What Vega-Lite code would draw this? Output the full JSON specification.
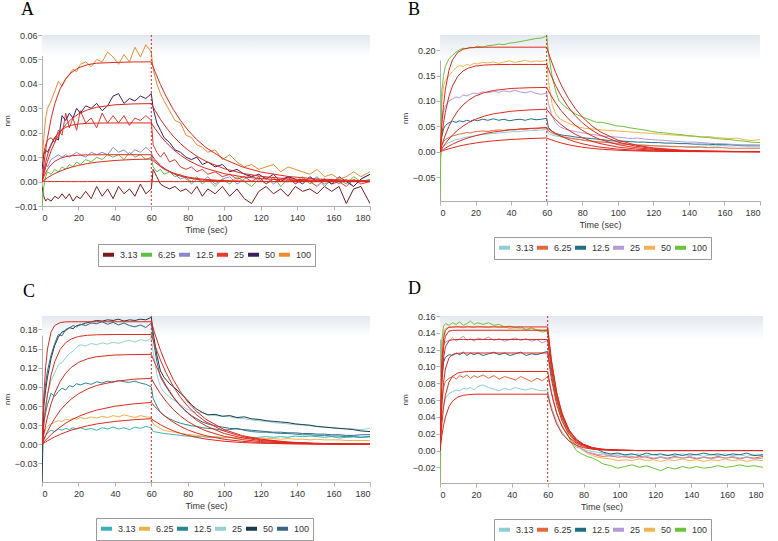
{
"$schema":"https://vega.github.io/schema/vega-lite/v6.json",
"padding":{"left":3,"top":0,"right":2,"bottom":1},
"background":"white",
"datasets":{
"An":[
{"t":0,"a":-0.002,"b":-0.010,"c":0.009,"d":0.010,"e":0.005,"f":0.008},
{"t":1,"a":-0.006,"b":-0.002,"c":0.004,"d":0.012,"e":0.011,"f":0.018},
{"t":2,"a":-0.008,"b":0.002,"c":0.007,"d":0.015,"e":0.013,"f":0.026},
{"t":3,"a":-0.007,"b":0.004,"c":0.006,"d":0.017,"e":0.012,"f":0.030},
{"t":5,"a":-0.008,"b":0.003,"c":0.009,"d":0.018,"e":0.015,"f":0.033},
{"t":7,"a":-0.006,"b":0.005,"c":0.010,"d":0.016,"e":0.018,"f":0.037},
{"t":9,"a":-0.007,"b":0.004,"c":0.011,"d":0.021,"e":0.017,"f":0.041},
{"t":11,"a":-0.005,"b":0.006,"c":0.010,"d":0.019,"e":0.027,"f":0.039},
{"t":13,"a":-0.007,"b":0.005,"c":0.011,"d":0.028,"e":0.025,"f":0.042},
{"t":15,"a":-0.005,"b":0.007,"c":0.010,"d":0.022,"e":0.028,"f":0.044},
{"t":17,"a":-0.008,"b":0.006,"c":0.011,"d":0.026,"e":0.026,"f":0.046},
{"t":19,"a":-0.006,"b":0.008,"c":0.012,"d":0.021,"e":0.030,"f":0.045},
{"t":21,"a":-0.007,"b":0.007,"c":0.011,"d":0.029,"e":0.028,"f":0.048},
{"t":24,"a":-0.004,"b":0.009,"c":0.010,"d":0.024,"e":0.031,"f":0.049},
{"t":27,"a":-0.007,"b":0.008,"c":0.012,"d":0.026,"e":0.030,"f":0.047},
{"t":30,"a":-0.002,"b":0.010,"c":0.011,"d":0.022,"e":0.032,"f":0.050},
{"t":33,"a":-0.006,"b":0.009,"c":0.012,"d":0.028,"e":0.029,"f":0.049},
{"t":36,"a":-0.003,"b":0.011,"c":0.011,"d":0.024,"e":0.031,"f":0.053},
{"t":39,"a":-0.007,"b":0.010,"c":0.014,"d":0.027,"e":0.035,"f":0.051},
{"t":42,"a":-0.002,"b":0.011,"c":0.012,"d":0.024,"e":0.036,"f":0.048},
{"t":45,"a":-0.005,"b":0.009,"c":0.013,"d":0.027,"e":0.032,"f":0.052},
{"t":48,"a":-0.003,"b":0.012,"c":0.011,"d":0.023,"e":0.034,"f":0.049},
{"t":51,"a":-0.006,"b":0.010,"c":0.013,"d":0.026,"e":0.033,"f":0.055},
{"t":54,"a":-0.001,"b":0.011,"c":0.012,"d":0.025,"e":0.035,"f":0.051},
{"t":57,"a":-0.005,"b":0.009,"c":0.014,"d":0.027,"e":0.034,"f":0.056},
{"t":60,"a":-0.003,"b":0.010,"c":0.012,"d":0.025,"e":0.036,"f":0.053},
{"t":61,"a":0.005,"b":0.006,"c":0.009,"d":0.015,"e":0.030,"f":0.046},
{"t":63,"a":0.002,"b":0.004,"c":0.008,"d":0.012,"e":0.024,"f":0.040},
{"t":65,"a":-0.001,"b":0.005,"c":0.006,"d":0.010,"e":0.021,"f":0.036},
{"t":67,"a":-0.002,"b":0.003,"c":0.005,"d":0.012,"e":0.018,"f":0.033},
{"t":70,"a":-0.003,"b":0.004,"c":0.004,"d":0.008,"e":0.016,"f":0.029},
{"t":73,"a":-0.002,"b":0.002,"c":0.003,"d":0.009,"e":0.013,"f":0.025},
{"t":76,"a":-0.004,"b":0.003,"c":0.001,"d":0.006,"e":0.012,"f":0.024},
{"t":79,"a":-0.003,"b":0.001,"c":0.002,"d":0.005,"e":0.010,"f":0.019},
{"t":82,"a":-0.005,"b":0.000,"c":-0.001,"d":0.006,"e":0.009,"f":0.018},
{"t":85,"a":-0.002,"b":0.002,"c":0.001,"d":0.004,"e":0.010,"f":0.015},
{"t":88,"a":-0.006,"b":-0.001,"c":0.000,"d":0.005,"e":0.007,"f":0.014},
{"t":91,"a":-0.003,"b":0.001,"c":0.002,"d":0.003,"e":0.008,"f":0.012},
{"t":95,"a":-0.005,"b":-0.002,"c":-0.001,"d":0.004,"e":0.006,"f":0.013},
{"t":99,"a":-0.002,"b":0.001,"c":0.001,"d":0.002,"e":0.007,"f":0.009},
{"t":103,"a":-0.006,"b":-0.001,"c":0.002,"d":0.003,"e":0.004,"f":0.011},
{"t":107,"a":-0.003,"b":0.002,"c":-0.001,"d":0.001,"e":0.005,"f":0.008},
{"t":111,"a":-0.007,"b":0.000,"c":0.001,"d":0.002,"e":0.003,"f":0.006},
{"t":115,"a":-0.009,"b":-0.002,"c":0.003,"d":0.000,"e":0.002,"f":0.007},
{"t":119,"a":-0.004,"b":0.001,"c":0.000,"d":0.002,"e":0.003,"f":0.005},
{"t":123,"a":-0.002,"b":-0.001,"c":0.002,"d":-0.001,"e":0.001,"f":0.006},
{"t":127,"a":-0.005,"b":0.002,"c":-0.001,"d":0.001,"e":0.003,"f":0.007},
{"t":131,"a":-0.003,"b":-0.002,"c":0.001,"d":0.000,"e":0.000,"f":0.004},
{"t":135,"a":-0.006,"b":0.001,"c":0.002,"d":0.002,"e":0.002,"f":0.006},
{"t":139,"a":-0.002,"b":0.000,"c":-0.001,"d":-0.001,"e":0.001,"f":0.005},
{"t":143,"a":-0.004,"b":0.002,"c":0.001,"d":0.001,"e":-0.001,"f":0.004},
{"t":147,"a":-0.003,"b":-0.001,"c":0.000,"d":0.000,"e":0.002,"f":0.003},
{"t":151,"a":-0.005,"b":0.001,"c":0.002,"d":-0.002,"e":0.000,"f":0.005},
{"t":155,"a":-0.002,"b":-0.001,"c":-0.002,"d":0.001,"e":0.001,"f":0.002},
{"t":159,"a":-0.004,"b":0.000,"c":0.001,"d":-0.001,"e":-0.001,"f":0.003},
{"t":163,"a":-0.002,"b":0.001,"c":-0.001,"d":0.000,"e":0.002,"f":0.001},
{"t":167,"a":-0.009,"b":-0.001,"c":0.001,"d":-0.002,"e":0.000,"f":0.002},
{"t":171,"a":-0.003,"b":0.002,"c":-0.002,"d":0.001,"e":-0.002,"f":0.004},
{"t":175,"a":-0.002,"b":0.000,"c":0.001,"d":-0.001,"e":0.001,"f":0.002},
{"t":180,"a":-0.009,"b":0.001,"c":0.003,"d":0.000,"e":0.003,"f":0.004}
],
"Af":[
{"t":0,"a":0,"b":0,"c":0,"d":0,"e":0,"f":0},
{"t":1,"a":0,"b":0.00055,"c":0.00199,"d":0.00434,"e":0.00304,"f":0.00681},
{"t":2,"a":0,"b":0.00107,"c":0.00363,"d":0.00792,"e":0.00579,"f":0.01269},
{"t":3,"a":0,"b":0.00157,"c":0.00496,"d":0.01083,"e":0.00829,"f":0.01774},
{"t":5,"a":0,"b":0.00246,"c":0.00695,"d":0.01517,"e":0.01258,"f":0.02587},
{"t":7,"a":0,"b":0.00326,"c":0.00828,"d":0.01807,"e":0.0161,"f":0.03185},
{"t":10,"a":0,"b":0.00428,"c":0.00951,"d":0.02076,"e":0.02022,"f":0.03807},
{"t":13,"a":0,"b":0.00515,"c":0.01019,"d":0.02222,"e":0.02326,"f":0.04204},
{"t":16,"a":0,"b":0.00586,"c":0.01055,"d":0.02302,"e":0.02554,"f":0.04454},
{"t":20,"a":0,"b":0.00664,"c":0.0108,"d":0.02356,"e":0.02768,"f":0.04655},
{"t":25,"a":0,"b":0.00738,"c":0.01093,"d":0.02384,"e":0.02938,"f":0.04785},
{"t":30,"a":0,"b":0.00793,"c":0.01097,"d":0.02394,"e":0.0304,"f":0.04846},
{"t":40,"a":0,"b":0.00864,"c":0.011,"d":0.024,"e":0.03142,"f":0.04878},
{"t":50,"a":0,"b":0.00903,"c":0.011,"d":0.024,"e":0.03179,"f":0.04897},
{"t":60,"a":0,"b":0.00924,"c":0.011,"d":0.024,"e":0.03192,"f":0.049},
{"t":62,"a":0,"b":0.00787,"c":0.00901,"d":0.02172,"e":0.02916,"f":0.04505},
{"t":65,"a":0,"b":0.00619,"c":0.00667,"d":0.01869,"e":0.02549,"f":0.03973},
{"t":68,"a":0,"b":0.00487,"c":0.00494,"d":0.01608,"e":0.02227,"f":0.03502},
{"t":72,"a":0,"b":0.00354,"c":0.00331,"d":0.01317,"e":0.0186,"f":0.0296},
{"t":76,"a":0,"b":0.00257,"c":0.00222,"d":0.01078,"e":0.01553,"f":0.02503},
{"t":80,"a":0,"b":0.00187,"c":0.00149,"d":0.00883,"e":0.01298,"f":0.02115},
{"t":85,"a":0,"b":0.00125,"c":0.0009,"d":0.00688,"e":0.01036,"f":0.01715},
{"t":90,"a":0,"b":0.00084,"c":0.00055,"d":0.00536,"e":0.00827,"f":0.0139},
{"t":100,"a":0,"b":0.00038,"c":0.0002,"d":0.00325,"e":0.00527,"f":0.00913},
{"t":110,"a":0,"b":0.00017,"c":0.00007,"d":0.00197,"e":0.00336,"f":0.00599},
{"t":120,"a":0,"b":0.00008,"c":0,"d":0.0012,"e":0.00214,"f":0.00393},
{"t":135,"a":0,"b":0,"c":0,"d":0.00056,"e":0.00109,"f":0.0021},
{"t":150,"a":0,"b":0,"c":0,"d":0.00027,"e":0.00056,"f":0.00112},
{"t":165,"a":0,"b":0,"c":0,"d":0.00013,"e":0.00028,"f":0.0006},
{"t":180,"a":0,"b":0,"c":0,"d":0.00006,"e":0.00014,"f":0.00032}
],
"Bn":[
{"t":0,"a":-0.020,"b":0.000,"c":0.000,"d":0.000,"e":-0.050,"f":-0.097},
{"t":1,"a":0.006,"b":0.012,"c":0.030,"d":0.060,"e":0.100,"f":0.120},
{"t":2,"a":0.010,"b":0.020,"c":0.045,"d":0.080,"e":0.130,"f":0.150},
{"t":3,"a":0.014,"b":0.024,"c":0.052,"d":0.090,"e":0.140,"f":0.168},
{"t":5,"a":0.018,"b":0.028,"c":0.057,"d":0.100,"e":0.150,"f":0.183},
{"t":7,"a":0.021,"b":0.031,"c":0.060,"d":0.104,"e":0.158,"f":0.190},
{"t":9,"a":0.024,"b":0.033,"c":0.058,"d":0.108,"e":0.166,"f":0.196},
{"t":11,"a":0.025,"b":0.035,"c":0.061,"d":0.106,"e":0.170,"f":0.201},
{"t":13,"a":0.027,"b":0.036,"c":0.059,"d":0.112,"e":0.168,"f":0.204},
{"t":15,"a":0.029,"b":0.038,"c":0.062,"d":0.110,"e":0.172,"f":0.203},
{"t":17,"a":0.030,"b":0.037,"c":0.060,"d":0.113,"e":0.170,"f":0.206},
{"t":19,"a":0.031,"b":0.039,"c":0.063,"d":0.116,"e":0.174,"f":0.205},
{"t":21,"a":0.033,"b":0.040,"c":0.061,"d":0.114,"e":0.173,"f":0.208},
{"t":24,"a":0.034,"b":0.041,"c":0.064,"d":0.118,"e":0.176,"f":0.206},
{"t":27,"a":0.035,"b":0.040,"c":0.062,"d":0.116,"e":0.175,"f":0.209},
{"t":30,"a":0.036,"b":0.042,"c":0.065,"d":0.119,"e":0.177,"f":0.210},
{"t":33,"a":0.037,"b":0.043,"c":0.062,"d":0.117,"e":0.174,"f":0.212},
{"t":36,"a":0.038,"b":0.042,"c":0.064,"d":0.120,"e":0.177,"f":0.211},
{"t":39,"a":0.039,"b":0.044,"c":0.061,"d":0.118,"e":0.179,"f":0.214},
{"t":42,"a":0.040,"b":0.043,"c":0.063,"d":0.121,"e":0.176,"f":0.215},
{"t":45,"a":0.040,"b":0.045,"c":0.064,"d":0.118,"e":0.178,"f":0.217},
{"t":48,"a":0.041,"b":0.044,"c":0.062,"d":0.116,"e":0.180,"f":0.219},
{"t":51,"a":0.042,"b":0.046,"c":0.065,"d":0.119,"e":0.177,"f":0.221},
{"t":54,"a":0.042,"b":0.045,"c":0.063,"d":0.115,"e":0.179,"f":0.223},
{"t":57,"a":0.043,"b":0.047,"c":0.064,"d":0.113,"e":0.178,"f":0.224},
{"t":60,"a":0.044,"b":0.047,"c":0.066,"d":0.116,"e":0.180,"f":0.228},
{"t":61,"a":0.036,"b":0.041,"c":0.048,"d":0.095,"e":0.140,"f":0.195},
{"t":63,"a":0.033,"b":0.037,"c":0.040,"d":0.070,"e":0.095,"f":0.150},
{"t":65,"a":0.031,"b":0.034,"c":0.036,"d":0.058,"e":0.075,"f":0.120},
{"t":67,"a":0.030,"b":0.032,"c":0.034,"d":0.050,"e":0.066,"f":0.100},
{"t":70,"a":0.028,"b":0.029,"c":0.032,"d":0.045,"e":0.060,"f":0.090},
{"t":73,"a":0.026,"b":0.027,"c":0.031,"d":0.042,"e":0.055,"f":0.082},
{"t":76,"a":0.025,"b":0.025,"c":0.029,"d":0.040,"e":0.051,"f":0.075},
{"t":79,"a":0.024,"b":0.024,"c":0.028,"d":0.038,"e":0.048,"f":0.070},
{"t":82,"a":0.022,"b":0.022,"c":0.027,"d":0.036,"e":0.046,"f":0.066},
{"t":85,"a":0.021,"b":0.021,"c":0.026,"d":0.034,"e":0.045,"f":0.062},
{"t":88,"a":0.020,"b":0.020,"c":0.025,"d":0.033,"e":0.044,"f":0.058},
{"t":91,"a":0.019,"b":0.019,"c":0.024,"d":0.031,"e":0.043,"f":0.058},
{"t":95,"a":0.018,"b":0.018,"c":0.022,"d":0.030,"e":0.042,"f":0.055},
{"t":99,"a":0.017,"b":0.016,"c":0.021,"d":0.029,"e":0.041,"f":0.051},
{"t":103,"a":0.016,"b":0.015,"c":0.021,"d":0.028,"e":0.040,"f":0.050},
{"t":107,"a":0.015,"b":0.014,"c":0.020,"d":0.026,"e":0.039,"f":0.047},
{"t":111,"a":0.014,"b":0.013,"c":0.019,"d":0.027,"e":0.038,"f":0.045},
{"t":115,"a":0.013,"b":0.013,"c":0.019,"d":0.025,"e":0.037,"f":0.043},
{"t":119,"a":0.012,"b":0.012,"c":0.018,"d":0.024,"e":0.036,"f":0.040},
{"t":123,"a":0.012,"b":0.011,"c":0.018,"d":0.023,"e":0.035,"f":0.038},
{"t":127,"a":0.011,"b":0.011,"c":0.017,"d":0.022,"e":0.034,"f":0.037},
{"t":131,"a":0.011,"b":0.010,"c":0.017,"d":0.021,"e":0.033,"f":0.035},
{"t":135,"a":0.010,"b":0.010,"c":0.016,"d":0.020,"e":0.032,"f":0.034},
{"t":139,"a":0.011,"b":0.009,"c":0.016,"d":0.019,"e":0.031,"f":0.032},
{"t":143,"a":0.010,"b":0.009,"c":0.015,"d":0.019,"e":0.030,"f":0.031},
{"t":147,"a":0.011,"b":0.009,"c":0.015,"d":0.018,"e":0.029,"f":0.029},
{"t":151,"a":0.012,"b":0.008,"c":0.015,"d":0.017,"e":0.030,"f":0.028},
{"t":155,"a":0.011,"b":0.008,"c":0.014,"d":0.016,"e":0.028,"f":0.026},
{"t":159,"a":0.012,"b":0.008,"c":0.014,"d":0.016,"e":0.027,"f":0.025},
{"t":163,"a":0.011,"b":0.007,"c":0.014,"d":0.015,"e":0.026,"f":0.024},
{"t":167,"a":0.012,"b":0.007,"c":0.013,"d":0.014,"e":0.027,"f":0.022},
{"t":171,"a":0.011,"b":0.007,"c":0.013,"d":0.013,"e":0.024,"f":0.021},
{"t":175,"a":0.010,"b":0.007,"c":0.013,"d":0.013,"e":0.022,"f":0.019},
{"t":180,"a":0.010,"b":0.007,"c":0.013,"d":0.012,"e":0.024,"f":0.018}
],
"Bf":[
{"t":0,"a":0,"b":0,"c":0,"d":0,"e":0,"f":0},
{"t":1,"a":0.0013,"b":0.0025,"c":0.0058,"d":0.0121,"e":0.0311,"f":0.0534},
{"t":2,"a":0.0025,"b":0.0048,"c":0.0111,"d":0.0230,"e":0.0568,"f":0.0929},
{"t":3,"a":0.0037,"b":0.0070,"c":0.0161,"d":0.0329,"e":0.0776,"f":0.1222},
{"t":5,"a":0.0058,"b":0.0111,"c":0.0251,"d":0.0499,"e":0.1087,"f":0.1601},
{"t":7,"a":0.0078,"b":0.0148,"c":0.0329,"d":0.0639,"e":0.1295,"f":0.1809},
{"t":10,"a":0.0105,"b":0.0197,"c":0.0428,"d":0.0803,"e":0.1488,"f":0.1957},
{"t":13,"a":0.0128,"b":0.0239,"c":0.0507,"d":0.0923,"e":0.1593,"f":0.2019},
{"t":16,"a":0.0149,"b":0.0276,"c":0.0573,"d":0.1013,"e":0.1649,"f":0.2044},
{"t":20,"a":0.0172,"b":0.0316,"c":0.0640,"d":0.1099,"e":0.1689,"f":0.2055},
{"t":25,"a":0.0196,"b":0.0357,"c":0.0702,"d":0.1166,"e":0.1708,"f":0.206},
{"t":30,"a":0.0215,"b":0.0389,"c":0.0746,"d":0.1207,"e":0.1716,"f":0.206},
{"t":40,"a":0.0242,"b":0.0433,"c":0.0798,"d":0.1247,"e":0.172,"f":0.206},
{"t":50,"a":0.0260,"b":0.0459,"c":0.0824,"d":0.1261,"e":0.172,"f":0.206},
{"t":60,"a":0.0271,"b":0.0475,"c":0.0837,"d":0.1267,"e":0.172,"f":0.206},
{"t":62,"a":0.0243,"b":0.0426,"c":0.0750,"d":0.1135,"e":0.1541,"f":0.1846},
{"t":65,"a":0.0206,"b":0.0361,"c":0.0636,"d":0.0963,"e":0.1307,"f":0.1565},
{"t":68,"a":0.0175,"b":0.0306,"c":0.0539,"d":0.0816,"e":0.1108,"f":0.1327},
{"t":72,"a":0.0140,"b":0.0246,"c":0.0433,"d":0.0655,"e":0.0889,"f":0.1065},
{"t":76,"a":0.0112,"b":0.0197,"c":0.0347,"d":0.0526,"e":0.0714,"f":0.0855},
{"t":80,"a":0.0090,"b":0.0158,"c":0.0279,"d":0.0422,"e":0.0573,"f":0.0686},
{"t":85,"a":0.0069,"b":0.0120,"c":0.0212,"d":0.0321,"e":0.0435,"f":0.0521},
{"t":90,"a":0.0052,"b":0.0091,"c":0.0161,"d":0.0243,"e":0.0330,"f":0.0396},
{"t":100,"a":0.0030,"b":0.0053,"c":0.0093,"d":0.0141,"e":0.0191,"f":0.0229},
{"t":110,"a":0.0017,"b":0.0030,"c":0.0054,"d":0.0081,"e":0.0110,"f":0.0132},
{"t":120,"a":0.0010,"b":0.0018,"c":0.0031,"d":0.0047,"e":0.0064,"f":0.0076},
{"t":135,"a":0.0004,"b":0.0008,"c":0.0014,"d":0.0021,"e":0.0028,"f":0.0033},
{"t":150,"a":0.0002,"b":0.0003,"c":0.0006,"d":0.0009,"e":0.0012,"f":0.0015},
{"t":165,"a":0.0001,"b":0.0001,"c":0.0003,"d":0.0004,"e":0.0005,"f":0.0006},
{"t":180,"a":0,"b":0.0001,"c":0.0001,"d":0.0002,"e":0.0002,"f":0.0003}
],
"Cn":[
{"t":0,"a":0.000,"b":0.000,"c":-0.010,"d":0.000,"e":-0.059,"f":0.000},
{"t":1,"a":0.008,"b":0.015,"c":0.035,"d":0.040,"e":0.060,"f":0.070},
{"t":2,"a":0.014,"b":0.025,"c":0.050,"d":0.060,"e":0.085,"f":0.095},
{"t":3,"a":0.018,"b":0.028,"c":0.062,"d":0.078,"e":0.105,"f":0.115},
{"t":5,"a":0.022,"b":0.032,"c":0.080,"d":0.100,"e":0.135,"f":0.140},
{"t":7,"a":0.020,"b":0.035,"c":0.075,"d":0.112,"e":0.155,"f":0.158},
{"t":9,"a":0.024,"b":0.037,"c":0.083,"d":0.125,"e":0.168,"f":0.172},
{"t":11,"a":0.022,"b":0.036,"c":0.088,"d":0.128,"e":0.176,"f":0.170},
{"t":13,"a":0.025,"b":0.039,"c":0.085,"d":0.136,"e":0.178,"f":0.180},
{"t":15,"a":0.023,"b":0.038,"c":0.092,"d":0.142,"e":0.183,"f":0.182},
{"t":17,"a":0.026,"b":0.041,"c":0.090,"d":0.146,"e":0.181,"f":0.186},
{"t":19,"a":0.024,"b":0.039,"c":0.095,"d":0.152,"e":0.186,"f":0.184},
{"t":21,"a":0.026,"b":0.042,"c":0.093,"d":0.156,"e":0.187,"f":0.188},
{"t":24,"a":0.023,"b":0.040,"c":0.096,"d":0.154,"e":0.190,"f":0.186},
{"t":27,"a":0.025,"b":0.043,"c":0.094,"d":0.158,"e":0.192,"f":0.190},
{"t":30,"a":0.022,"b":0.041,"c":0.098,"d":0.156,"e":0.194,"f":0.189},
{"t":33,"a":0.026,"b":0.044,"c":0.096,"d":0.159,"e":0.193,"f":0.192},
{"t":36,"a":0.024,"b":0.042,"c":0.099,"d":0.157,"e":0.195,"f":0.188},
{"t":39,"a":0.027,"b":0.045,"c":0.097,"d":0.160,"e":0.194,"f":0.191},
{"t":42,"a":0.024,"b":0.043,"c":0.100,"d":0.158,"e":0.196,"f":0.187},
{"t":45,"a":0.026,"b":0.046,"c":0.098,"d":0.161,"e":0.193,"f":0.190},
{"t":48,"a":0.023,"b":0.044,"c":0.097,"d":0.163,"e":0.195,"f":0.186},
{"t":51,"a":0.027,"b":0.042,"c":0.099,"d":0.160,"e":0.194,"f":0.184},
{"t":54,"a":0.025,"b":0.045,"c":0.096,"d":0.164,"e":0.196,"f":0.187},
{"t":57,"a":0.028,"b":0.043,"c":0.094,"d":0.162,"e":0.195,"f":0.183},
{"t":60,"a":0.026,"b":0.042,"c":0.090,"d":0.166,"e":0.199,"f":0.190},
{"t":61,"a":0.020,"b":0.032,"c":0.072,"d":0.145,"e":0.175,"f":0.165},
{"t":63,"a":0.019,"b":0.028,"c":0.060,"d":0.110,"e":0.140,"f":0.130},
{"t":65,"a":0.018,"b":0.025,"c":0.050,"d":0.090,"e":0.115,"f":0.105},
{"t":67,"a":0.017,"b":0.022,"c":0.045,"d":0.082,"e":0.105,"f":0.095},
{"t":70,"a":0.016,"b":0.020,"c":0.040,"d":0.074,"e":0.095,"f":0.082},
{"t":73,"a":0.015,"b":0.019,"c":0.036,"d":0.068,"e":0.088,"f":0.070},
{"t":76,"a":0.014,"b":0.017,"c":0.033,"d":0.062,"e":0.080,"f":0.060},
{"t":79,"a":0.013,"b":0.016,"c":0.031,"d":0.056,"e":0.072,"f":0.052},
{"t":82,"a":0.013,"b":0.015,"c":0.029,"d":0.052,"e":0.062,"f":0.045},
{"t":85,"a":0.012,"b":0.014,"c":0.028,"d":0.050,"e":0.055,"f":0.040},
{"t":88,"a":0.012,"b":0.013,"c":0.026,"d":0.049,"e":0.050,"f":0.035},
{"t":91,"a":0.011,"b":0.012,"c":0.025,"d":0.047,"e":0.046,"f":0.032},
{"t":95,"a":0.011,"b":0.012,"c":0.024,"d":0.045,"e":0.047,"f":0.029},
{"t":99,"a":0.010,"b":0.011,"c":0.022,"d":0.044,"e":0.044,"f":0.027},
{"t":103,"a":0.011,"b":0.011,"c":0.023,"d":0.043,"e":0.045,"f":0.025},
{"t":107,"a":0.010,"b":0.010,"c":0.025,"d":0.041,"e":0.042,"f":0.024},
{"t":111,"a":0.011,"b":0.010,"c":0.022,"d":0.040,"e":0.043,"f":0.023},
{"t":115,"a":0.010,"b":0.009,"c":0.020,"d":0.038,"e":0.040,"f":0.022},
{"t":119,"a":0.011,"b":0.010,"c":0.019,"d":0.037,"e":0.039,"f":0.021},
{"t":123,"a":0.012,"b":0.009,"c":0.019,"d":0.036,"e":0.037,"f":0.020},
{"t":127,"a":0.011,"b":0.009,"c":0.018,"d":0.034,"e":0.036,"f":0.019},
{"t":131,"a":0.012,"b":0.008,"c":0.017,"d":0.033,"e":0.035,"f":0.019},
{"t":135,"a":0.011,"b":0.009,"c":0.017,"d":0.032,"e":0.034,"f":0.018},
{"t":139,"a":0.013,"b":0.008,"c":0.016,"d":0.031,"e":0.032,"f":0.018},
{"t":143,"a":0.012,"b":0.008,"c":0.015,"d":0.030,"e":0.031,"f":0.017},
{"t":147,"a":0.013,"b":0.007,"c":0.015,"d":0.029,"e":0.030,"f":0.017},
{"t":151,"a":0.012,"b":0.008,"c":0.014,"d":0.028,"e":0.028,"f":0.016},
{"t":155,"a":0.011,"b":0.007,"c":0.014,"d":0.027,"e":0.027,"f":0.016},
{"t":159,"a":0.012,"b":0.007,"c":0.013,"d":0.026,"e":0.026,"f":0.015},
{"t":163,"a":0.010,"b":0.007,"c":0.013,"d":0.025,"e":0.025,"f":0.015},
{"t":167,"a":0.011,"b":0.006,"c":0.012,"d":0.025,"e":0.024,"f":0.014},
{"t":171,"a":0.012,"b":0.006,"c":0.012,"d":0.024,"e":0.023,"f":0.014},
{"t":175,"a":0.011,"b":0.006,"c":0.011,"d":0.023,"e":0.021,"f":0.015},
{"t":180,"a":0.012,"b":0.006,"c":0.012,"d":0.025,"e":0.020,"f":0.015}
],
"Cf":[
{"t":0,"a":0,"b":0,"c":0,"d":0,"e":0,"f":0},
{"t":1,"a":0.0019,"b":0.0034,"c":0.0071,"d":0.0159,"e":0.0311,"f":0.0755},
{"t":2,"a":0.0037,"b":0.0066,"c":0.0138,"d":0.0300,"e":0.0568,"f":0.1213},
{"t":3,"a":0.0054,"b":0.0096,"c":0.0198,"d":0.0426,"e":0.0776,"f":0.1492},
{"t":5,"a":0.0086,"b":0.0152,"c":0.0310,"d":0.0636,"e":0.1087,"f":0.1763},
{"t":7,"a":0.0116,"b":0.0204,"c":0.0406,"d":0.0801,"e":0.1295,"f":0.1862},
{"t":10,"a":0.0156,"b":0.0271,"c":0.0533,"d":0.0986,"e":0.1488,"f":0.1907},
{"t":13,"a":0.0190,"b":0.0330,"c":0.0627,"d":0.1114,"e":0.1593,"f":0.1918},
{"t":16,"a":0.0221,"b":0.0380,"c":0.0708,"d":0.1203,"e":0.1649,"f":0.192},
{"t":20,"a":0.0255,"b":0.0436,"c":0.0791,"d":0.1282,"e":0.1689,"f":0.192},
{"t":25,"a":0.0290,"b":0.0492,"c":0.0867,"d":0.1340,"e":0.1708,"f":0.192},
{"t":30,"a":0.0319,"b":0.0536,"c":0.0922,"d":0.1372,"e":0.1716,"f":0.192},
{"t":40,"a":0.0359,"b":0.0597,"c":0.0986,"d":0.1399,"e":0.172,"f":0.192},
{"t":50,"a":0.0385,"b":0.0633,"c":0.1019,"d":0.1406,"e":0.172,"f":0.192},
{"t":60,"a":0.0401,"b":0.0656,"c":0.1034,"d":0.1409,"e":0.172,"f":0.192},
{"t":62,"a":0.0361,"b":0.0590,"c":0.0930,"d":0.1268,"e":0.1546,"f":0.1726},
{"t":65,"a":0.0308,"b":0.0503,"c":0.0793,"d":0.1081,"e":0.1319,"f":0.1473},
{"t":68,"a":0.0262,"b":0.0429,"c":0.0676,"d":0.0922,"e":0.1125,"f":0.1256},
{"t":72,"a":0.0212,"b":0.0347,"c":0.0547,"d":0.0746,"e":0.0910,"f":0.1016},
{"t":76,"a":0.0172,"b":0.0281,"c":0.0443,"d":0.0603,"e":0.0736,"f":0.0822},
{"t":80,"a":0.0139,"b":0.0227,"c":0.0358,"d":0.0488,"e":0.0595,"f":0.0664},
{"t":85,"a":0.0107,"b":0.0175,"c":0.0275,"d":0.0375,"e":0.0458,"f":0.0511},
{"t":90,"a":0.0082,"b":0.0134,"c":0.0211,"d":0.0288,"e":0.0351,"f":0.0392},
{"t":100,"a":0.0048,"b":0.0079,"c":0.0124,"d":0.0169,"e":0.0206,"f":0.0230},
{"t":110,"a":0.0028,"b":0.0047,"c":0.0073,"d":0.0100,"e":0.0122,"f":0.0136},
{"t":120,"a":0.0017,"b":0.0028,"c":0.0043,"d":0.0059,"e":0.0072,"f":0.0081},
{"t":135,"a":0.0008,"b":0.0012,"c":0.0020,"d":0.0027,"e":0.0033,"f":0.0036},
{"t":150,"a":0.0003,"b":0.0006,"c":0.0009,"d":0.0012,"e":0.0015,"f":0.0016},
{"t":165,"a":0.0002,"b":0.0002,"c":0.0004,"d":0.0005,"e":0.0007,"f":0.0007},
{"t":180,"a":0.0001,"b":0.0001,"c":0.0002,"d":0.0002,"e":0.0003,"f":0.0003}
],
"Dn":[
{"t":0,"a":0.010,"b":-0.010,"c":0.010,"d":0.020,"e":0.000,"f":-0.0386},
{"t":1,"a":0.040,"b":0.060,"c":0.085,"d":0.110,"e":0.120,"f":0.130},
{"t":2,"a":0.055,"b":0.075,"c":0.105,"d":0.125,"e":0.140,"f":0.148},
{"t":3,"a":0.062,"b":0.082,"c":0.111,"d":0.129,"e":0.145,"f":0.151},
{"t":5,"a":0.068,"b":0.086,"c":0.114,"d":0.131,"e":0.147,"f":0.149},
{"t":7,"a":0.070,"b":0.088,"c":0.113,"d":0.134,"e":0.146,"f":0.152},
{"t":9,"a":0.072,"b":0.085,"c":0.116,"d":0.130,"e":0.148,"f":0.150},
{"t":11,"a":0.071,"b":0.089,"c":0.114,"d":0.133,"e":0.147,"f":0.153},
{"t":13,"a":0.074,"b":0.087,"c":0.117,"d":0.136,"e":0.146,"f":0.149},
{"t":15,"a":0.073,"b":0.090,"c":0.113,"d":0.131,"e":0.148,"f":0.151},
{"t":17,"a":0.075,"b":0.086,"c":0.116,"d":0.133,"e":0.147,"f":0.154},
{"t":19,"a":0.072,"b":0.089,"c":0.114,"d":0.130,"e":0.146,"f":0.150},
{"t":21,"a":0.076,"b":0.087,"c":0.116,"d":0.134,"e":0.148,"f":0.152},
{"t":24,"a":0.078,"b":0.090,"c":0.113,"d":0.132,"e":0.147,"f":0.150},
{"t":27,"a":0.075,"b":0.086,"c":0.115,"d":0.135,"e":0.146,"f":0.152},
{"t":30,"a":0.073,"b":0.089,"c":0.117,"d":0.131,"e":0.148,"f":0.149},
{"t":33,"a":0.071,"b":0.085,"c":0.114,"d":0.133,"e":0.146,"f":0.150},
{"t":36,"a":0.074,"b":0.088,"c":0.116,"d":0.130,"e":0.147,"f":0.147},
{"t":39,"a":0.072,"b":0.086,"c":0.113,"d":0.132,"e":0.145,"f":0.148},
{"t":42,"a":0.075,"b":0.084,"c":0.115,"d":0.134,"e":0.146,"f":0.146},
{"t":45,"a":0.073,"b":0.088,"c":0.117,"d":0.131,"e":0.145,"f":0.147},
{"t":48,"a":0.072,"b":0.085,"c":0.113,"d":0.133,"e":0.144,"f":0.144},
{"t":51,"a":0.074,"b":0.082,"c":0.115,"d":0.130,"e":0.145,"f":0.146},
{"t":54,"a":0.072,"b":0.086,"c":0.114,"d":0.132,"e":0.144,"f":0.143},
{"t":57,"a":0.071,"b":0.083,"c":0.116,"d":0.128,"e":0.143,"f":0.141},
{"t":60,"a":0.072,"b":0.088,"c":0.118,"d":0.131,"e":0.144,"f":0.142},
{"t":61,"a":0.060,"b":0.080,"c":0.105,"d":0.115,"e":0.125,"f":0.120},
{"t":63,"a":0.046,"b":0.060,"c":0.080,"d":0.085,"e":0.095,"f":0.088},
{"t":65,"a":0.035,"b":0.045,"c":0.060,"d":0.063,"e":0.070,"f":0.062},
{"t":67,"a":0.026,"b":0.034,"c":0.045,"d":0.047,"e":0.052,"f":0.044},
{"t":70,"a":0.016,"b":0.022,"c":0.030,"d":0.030,"e":0.032,"f":0.026},
{"t":73,"a":0.009,"b":0.012,"c":0.018,"d":0.017,"e":0.017,"f":0.010},
{"t":76,"a":0.004,"b":0.006,"c":0.010,"d":0.008,"e":0.007,"f":0.000},
{"t":79,"a":0.002,"b":0.002,"c":0.007,"d":0.002,"e":0.001,"f":-0.004},
{"t":82,"a":0.000,"b":-0.002,"c":0.006,"d":-0.002,"e":-0.003,"f":-0.007},
{"t":85,"a":-0.001,"b":-0.004,"c":0.002,"d":-0.003,"e":-0.006,"f":-0.009},
{"t":88,"a":-0.002,"b":-0.006,"c":0.001,"d":-0.005,"e":-0.008,"f":-0.012},
{"t":91,"a":-0.003,"b":-0.007,"c":-0.002,"d":-0.004,"e":-0.009,"f":-0.016},
{"t":95,"a":-0.005,"b":-0.006,"c":-0.004,"d":-0.007,"e":-0.010,"f":-0.018},
{"t":99,"a":-0.004,"b":-0.008,"c":-0.003,"d":-0.006,"e":-0.012,"f":-0.021},
{"t":103,"a":-0.006,"b":-0.007,"c":-0.005,"d":-0.008,"e":-0.011,"f":-0.019},
{"t":107,"a":-0.005,"b":-0.009,"c":-0.004,"d":-0.007,"e":-0.012,"f":-0.017},
{"t":111,"a":-0.004,"b":-0.007,"c":-0.006,"d":-0.009,"e":-0.010,"f":-0.020},
{"t":115,"a":-0.006,"b":-0.008,"c":-0.003,"d":-0.007,"e":-0.012,"f":-0.018},
{"t":119,"a":-0.005,"b":-0.010,"c":-0.005,"d":-0.009,"e":-0.011,"f":-0.021},
{"t":123,"a":-0.007,"b":-0.008,"c":-0.004,"d":-0.008,"e":-0.013,"f":-0.024},
{"t":127,"a":-0.005,"b":-0.009,"c":-0.006,"d":-0.010,"e":-0.011,"f":-0.020},
{"t":131,"a":-0.006,"b":-0.007,"c":-0.004,"d":-0.008,"e":-0.012,"f":-0.022},
{"t":135,"a":-0.004,"b":-0.009,"c":-0.006,"d":-0.009,"e":-0.010,"f":-0.019},
{"t":139,"a":-0.006,"b":-0.008,"c":-0.004,"d":-0.007,"e":-0.012,"f":-0.021},
{"t":143,"a":-0.005,"b":-0.010,"c":-0.005,"d":-0.009,"e":-0.011,"f":-0.019},
{"t":147,"a":-0.007,"b":-0.008,"c":-0.003,"d":-0.008,"e":-0.013,"f":-0.021},
{"t":151,"a":-0.005,"b":-0.009,"c":-0.005,"d":-0.010,"e":-0.011,"f":-0.020},
{"t":155,"a":-0.006,"b":-0.007,"c":-0.004,"d":-0.008,"e":-0.012,"f":-0.018},
{"t":159,"a":-0.004,"b":-0.009,"c":-0.006,"d":-0.009,"e":-0.010,"f":-0.020},
{"t":163,"a":-0.006,"b":-0.008,"c":-0.004,"d":-0.007,"e":-0.012,"f":-0.019},
{"t":167,"a":-0.005,"b":-0.010,"c":-0.005,"d":-0.009,"e":-0.011,"f":-0.017},
{"t":171,"a":-0.007,"b":-0.008,"c":-0.003,"d":-0.008,"e":-0.013,"f":-0.019},
{"t":175,"a":-0.005,"b":-0.009,"c":-0.006,"d":-0.010,"e":-0.011,"f":-0.018},
{"t":180,"a":-0.006,"b":-0.007,"c":-0.005,"d":-0.009,"e":-0.012,"f":-0.020}
],
"Df":[
{"t":0,"a":0,"b":0,"c":0,"d":0,"e":0,"f":0},
{"t":1,"a":0.0174,"b":0.0310,"c":0.0523,"d":0.0783,"e":0.0904,"f":0.1027},
{"t":2,"a":0.0302,"b":0.0518,"c":0.0811,"d":0.1102,"e":0.1237,"f":0.1336},
{"t":3,"a":0.0397,"b":0.0657,"c":0.0969,"d":0.1232,"e":0.1359,"f":0.1430},
{"t":5,"a":0.0521,"b":0.0813,"c":0.1102,"d":0.1305,"e":0.1420,"f":0.1466},
{"t":7,"a":0.0588,"b":0.0883,"c":0.1143,"d":0.1318,"e":0.1429,"f":0.147},
{"t":10,"a":0.0637,"b":0.0923,"c":0.1157,"d":0.132,"e":0.143,"f":0.147},
{"t":13,"a":0.0657,"b":0.0935,"c":0.116,"d":0.132,"e":0.143,"f":0.147},
{"t":16,"a":0.0665,"b":0.094,"c":0.116,"d":0.132,"e":0.143,"f":0.147},
{"t":20,"a":0.067,"b":0.094,"c":0.116,"d":0.132,"e":0.143,"f":0.147},
{"t":30,"a":0.067,"b":0.094,"c":0.116,"d":0.132,"e":0.143,"f":0.147},
{"t":45,"a":0.067,"b":0.094,"c":0.116,"d":0.132,"e":0.143,"f":0.147},
{"t":60,"a":0.067,"b":0.094,"c":0.116,"d":0.132,"e":0.143,"f":0.147},
{"t":62,"a":0.0496,"b":0.0697,"c":0.0860,"d":0.0978,"e":0.1060,"f":0.1089},
{"t":65,"a":0.0316,"b":0.0444,"c":0.0548,"d":0.0623,"e":0.0675,"f":0.0694},
{"t":68,"a":0.0202,"b":0.0283,"c":0.0349,"d":0.0397,"e":0.0430,"f":0.0442},
{"t":72,"a":0.0111,"b":0.0155,"c":0.0191,"d":0.0218,"e":0.0236,"f":0.0243},
{"t":76,"a":0.0061,"b":0.0086,"c":0.0106,"d":0.0120,"e":0.0130,"f":0.0134},
{"t":80,"a":0.0034,"b":0.0047,"c":0.0058,"d":0.0066,"e":0.0072,"f":0.0074},
{"t":85,"a":0.0016,"b":0.0022,"c":0.0027,"d":0.0031,"e":0.0034,"f":0.0035},
{"t":90,"a":0.0007,"b":0.0010,"c":0.0013,"d":0.0015,"e":0.0016,"f":0.0016},
{"t":100,"a":0.0002,"b":0.0002,"c":0.0003,"d":0.0003,"e":0.0004,"f":0.0004},
{"t":110,"a":0,"b":0,"c":0,"d":0,"e":0,"f":0},
{"t":180,"a":0,"b":0,"c":0,"d":0,"e":0,"f":0}
]
},
"resolve":{"scale":{"color":"independent"},"legend":{"color":"independent"}},
"spacing":13,
"vconcat":[
{"hconcat":[
{"width":328,"height":171,
"title":{"text":"A","anchor":"start","frame":"group","dx":-21,"offset":12},
"layer":[
{"data":{"values":[{}]},"mark":{"type":"rect","color":{"gradient":"linear","x1":0,"y1":0,"x2":0,"y2":1,"stops":[{"offset":0,"color":"#e3e8ef"},{"offset":1,"color":"#ffffff"}]}},"encoding":{"x":{"datum":0},"x2":{"datum":180},"y":{"datum":0.06},"y2":{"datum":0.0514}}},
{"data":{"name":"An"},"transform":[{"fold":["a","b","c","d","e","f"]}],
"mark":{"type":"line","strokeWidth":1,"clip":true},
"encoding":{
"x":{"field":"t","type":"quantitative","scale":{"domain":[0,180],"nice":false},"axis":{"values":[0,20,40,60,80,100,120,140,160,180],"tickCount":40,"title":"Time (sec)"}},
"y":{"field":"value","type":"quantitative","scale":{"domain":[-0.01,0.06],"nice":false,"zero":false},"axis":{"values":[-0.01,0,0.01,0.02,0.03,0.04,0.05,0.06],"tickCount":40,"format":".2f","title":"nm"}},
"color":{"field":"key","type":"nominal","scale":{"domain":["a","b","c","d","e","f"],"range":["#7b1a1a","#5dbf45","#8a88cc","#e83a2e","#3c1f63","#f08a30"]},"legend":{"title":null,"legendX":56,"legendY":209,"labelExpr":"['3.13','6.25','12.5','25','50','100'][indexof(['a','b','c','d','e','f'], datum.label)]"}}}},
{"data":{"name":"Af"},"transform":[{"fold":["a","b","c","d","e","f"]}],
"mark":{"type":"line","strokeWidth":1,"color":"#e0281e","clip":true},
"encoding":{"x":{"field":"t","type":"quantitative"},"y":{"field":"value","type":"quantitative"},"detail":{"field":"key"}}},
{"data":{"values":[{}]},"mark":{"type":"rule","color":"#d42a20","strokeDash":[2,2],"strokeWidth":1},"encoding":{"x":{"datum":60}}}
]},
{"width":320,"height":166,
"title":{"text":"B","anchor":"start","frame":"group","dx":-32,"offset":16},
"layer":[
{"data":{"values":[{}]},"mark":{"type":"rect","color":{"gradient":"linear","x1":0,"y1":0,"x2":0,"y2":1,"stops":[{"offset":0,"color":"#e3e8ef"},{"offset":1,"color":"#ffffff"}]}},"encoding":{"x":{"datum":0},"x2":{"datum":180},"y":{"datum":0.23},"y2":{"datum":0.18}}},
{"data":{"name":"Bn"},"transform":[{"fold":["a","b","c","d","e","f"]}],
"mark":{"type":"line","strokeWidth":1,"clip":true},
"encoding":{
"x":{"field":"t","type":"quantitative","scale":{"domain":[0,180],"nice":false},"axis":{"values":[0,20,40,60,80,100,120,140,160,180],"tickCount":40,"title":"Time (sec)"}},
"y":{"field":"value","type":"quantitative","scale":{"domain":[-0.097,0.23],"nice":false,"zero":false},"axis":{"values":[-0.05,0,0.05,0.1,0.15,0.2],"tickCount":40,"format":".2f","title":"nm"}},
"color":{"field":"key","type":"nominal","scale":{"domain":["a","b","c","d","e","f"],"range":["#8ccfd4","#e8663c","#1f6e85","#b49ad8","#f5b24e","#6cc23a"]},"legend":{"title":null,"legendX":54,"legendY":202,"labelExpr":"['3.13','6.25','12.5','25','50','100'][indexof(['a','b','c','d','e','f'], datum.label)]"}}}},
{"data":{"name":"Bf"},"transform":[{"fold":["a","b","c","d","e","f"]}],
"mark":{"type":"line","strokeWidth":1,"color":"#e0281e","clip":true},
"encoding":{"x":{"field":"t","type":"quantitative"},"y":{"field":"value","type":"quantitative"},"detail":{"field":"key"}}},
{"data":{"values":[{}]},"mark":{"type":"rule","color":"#d42a20","strokeDash":[2,2],"strokeWidth":1},"encoding":{"x":{"datum":60}}}
]}
],"spacing":30,"resolve":{"scale":{"color":"independent"},"legend":{"color":"independent"}}},
{"hconcat":[
{"width":328,"height":166,
"title":{"text":"C","anchor":"start","frame":"group","dx":-19,"offset":15},
"layer":[
{"data":{"values":[{}]},"mark":{"type":"rect","color":{"gradient":"linear","x1":0,"y1":0,"x2":0,"y2":1,"stops":[{"offset":0,"color":"#e3e8ef"},{"offset":1,"color":"#ffffff"}]}},"encoding":{"x":{"datum":0},"x2":{"datum":180},"y":{"datum":0.201},"y2":{"datum":0.17}}},
{"data":{"name":"Cn"},"transform":[{"fold":["a","b","c","d","e","f"]}],
"mark":{"type":"line","strokeWidth":1,"clip":true},
"encoding":{
"x":{"field":"t","type":"quantitative","scale":{"domain":[0,180],"nice":false},"axis":{"values":[0,20,40,60,80,100,120,140,160,180],"tickCount":40,"title":"Time (sec)"}},
"y":{"field":"value","type":"quantitative","scale":{"domain":[-0.059,0.201],"nice":false,"zero":false},"axis":{"values":[-0.03,0,0.03,0.06,0.09,0.12,0.15,0.18],"tickCount":40,"format":".2f","title":"nm"}},
"color":{"field":"key","type":"nominal","scale":{"domain":["a","b","c","d","e","f"],"range":["#3bb3b5","#f0b04c","#2a8794","#95d1d1","#193a48","#3a6686"]},"legend":{"title":null,"legendX":54,"legendY":202,"labelExpr":"['3.13','6.25','12.5','25','50','100'][indexof(['a','b','c','d','e','f'], datum.label)]"}}}},
{"data":{"name":"Cf"},"transform":[{"fold":["a","b","c","d","e","f"]}],
"mark":{"type":"line","strokeWidth":1,"color":"#e0281e","clip":true},
"encoding":{"x":{"field":"t","type":"quantitative"},"y":{"field":"value","type":"quantitative"},"detail":{"field":"key"}}},
{"data":{"values":[{}]},"mark":{"type":"rule","color":"#d42a20","strokeDash":[2,2],"strokeWidth":1},"encoding":{"x":{"datum":60}}}
]},
{"width":323,"height":167,
"title":{"text":"D","anchor":"start","frame":"group","dx":-32,"offset":14},
"layer":[
{"data":{"values":[{}]},"mark":{"type":"rect","color":{"gradient":"linear","x1":0,"y1":0,"x2":0,"y2":1,"stops":[{"offset":0,"color":"#e3e8ef"},{"offset":1,"color":"#ffffff"}]}},"encoding":{"x":{"datum":0},"x2":{"datum":180},"y":{"datum":0.16},"y2":{"datum":0.132}}},
{"data":{"name":"Dn"},"transform":[{"fold":["a","b","c","d","e","f"]}],
"mark":{"type":"line","strokeWidth":1,"clip":true},
"encoding":{
"x":{"field":"t","type":"quantitative","scale":{"domain":[0,180],"nice":false},"axis":{"values":[0,20,40,60,80,100,120,140,160,180],"tickCount":40,"title":"Time (sec)"}},
"y":{"field":"value","type":"quantitative","scale":{"domain":[-0.0386,0.16],"nice":false,"zero":false},"axis":{"values":[-0.02,0,0.02,0.04,0.06,0.08,0.1,0.12,0.14,0.16],"tickCount":40,"format":".2f","title":"nm"}},
"color":{"field":"key","type":"nominal","scale":{"domain":["a","b","c","d","e","f"],"range":["#8ccfd4","#e8663c","#1f6e85","#b49ad8","#f5b24e","#6cc23a"]},"legend":{"title":null,"legendX":54,"legendY":203,"labelExpr":"['3.13','6.25','12.5','25','50','100'][indexof(['a','b','c','d','e','f'], datum.label)]"}}}},
{"data":{"name":"Df"},"transform":[{"fold":["a","b","c","d","e","f"]}],
"mark":{"type":"line","strokeWidth":1,"color":"#e0281e","clip":true},
"encoding":{"x":{"field":"t","type":"quantitative"},"y":{"field":"value","type":"quantitative"},"detail":{"field":"key"}}},
{"data":{"values":[{}]},"mark":{"type":"rule","color":"#d42a20","strokeDash":[2,2],"strokeWidth":1},"encoding":{"x":{"datum":60}}}
]}
],"spacing":30,"resolve":{"scale":{"color":"independent"},"legend":{"color":"independent"}}}
],
"config":{
"view":{"stroke":null},
"font":"Liberation Sans",
"title":{"font":"Liberation Serif","fontSize":18,"fontWeight":"normal","color":"#000000"},
"axis":{"labelFont":"Liberation Sans","titleFont":"Liberation Sans","labelFontSize":9,"labelColor":"#333333","titleFontSize":9,"titleFontWeight":"normal","titleColor":"#333333","gridColor":"#dfe3ea","domainColor":"#b0b0b0","tickColor":"#b0b0b0","tickSize":4,"labelOverlap":false},
"axisY":{"titleFontSize":8,"titlePadding":3,"labelPadding":1},
"axisX":{"titlePadding":3,"labelPadding":3},
"legend":{"orient":"none","direction":"horizontal","symbolType":"stroke","symbolStrokeWidth":4,"symbolSize":121,"labelFontSize":9,"labelFont":"Liberation Sans","labelColor":"#333333","strokeColor":"#999999","fillColor":"#ffffff","padding":3,"columnPadding":-5,"gridAlign":"each","labelOffset":4}
}
}
